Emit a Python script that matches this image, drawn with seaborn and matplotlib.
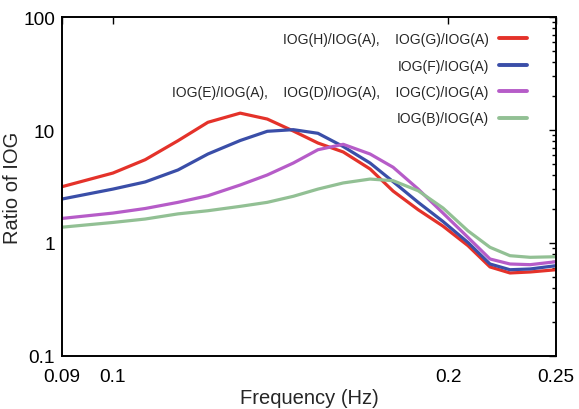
import matplotlib
matplotlib.use("Agg")
import matplotlib.pyplot as plt
import matplotlib.ticker as mticker
import seaborn as sns
import pandas as pd
import numpy as np

# frequencies (Hz)
freq = [0.09, 0.100, 0.1069, 0.1144, 0.1217, 0.1301, 0.1376, 0.1452, 0.1528,
        0.1610, 0.1702, 0.1785, 0.1880, 0.1979, 0.2084, 0.2181, 0.2273, 0.2370, 0.25]

ratio_hg = [3.15, 4.16, 5.46, 8.04, 11.7, 14.1, 12.5, 9.8, 7.67,
            6.39, 4.52, 2.88, 1.97, 1.41, 0.947, 0.614, 0.543, 0.554, 0.580]
ratio_f = [2.45, 3.0, 3.47, 4.43, 6.13, 8.07, 9.74, 10.07, 9.35,
           7.14, 5.10, 3.49, 2.29, 1.55, 1.01, 0.652, 0.580, 0.589, 0.630]
ratio_edc = [1.65, 1.84, 2.02, 2.29, 2.62, 3.26, 4.00, 5.10, 6.69,
             7.47, 6.13, 4.68, 3.0, 1.84, 1.12, 0.722, 0.652, 0.643, 0.683]
ratio_b = [1.38, 1.52, 1.63, 1.81, 1.93, 2.11, 2.29, 2.59, 3.0,
           3.40, 3.68, 3.56, 2.90, 2.04, 1.28, 0.916, 0.772, 0.747, 0.756]

labels = ["IOG(H)/IOG(A),    IOG(G)/IOG(A)",
          "IOG(F)/IOG(A)",
          "IOG(E)/IOG(A),    IOG(D)/IOG(A),    IOG(C)/IOG(A)",
          "IOG(B)/IOG(A)"]
colors = ["#e4322a", "#3a4ea8", "#b65cc8", "#92c094"]

df = pd.concat([
    pd.DataFrame({"freq": freq, "ratio": vals, "series": lab})
    for lab, vals in zip(labels, [ratio_hg, ratio_f, ratio_edc, ratio_b])
])

sns.set_style("white")
plt.rcParams["font.family"] = ["Liberation Sans", "DejaVu Sans"]

fig = plt.figure(figsize=(5.79, 4.10), dpi=100)
ax = fig.add_axes([62 / 579, 53 / 410, 494 / 579, 339 / 410])

sns.lineplot(data=df, x="freq", y="ratio", hue="series", palette=colors,
             hue_order=labels, sort=False, estimator=None, linewidth=2.3,
             ax=ax, legend=False)

ax.set_xscale("log")
ax.set_yscale("log")
ax.set_xlim(0.09, 0.25)
ax.set_ylim(0.1, 100)

ax.xaxis.set_major_locator(mticker.FixedLocator([0.09, 0.1, 0.2, 0.25]))
ax.xaxis.set_major_formatter(mticker.FixedFormatter(["0.09", "0.1", "0.2", "0.25"]))
ax.xaxis.set_minor_locator(mticker.NullLocator())
ax.yaxis.set_major_locator(mticker.FixedLocator([0.1, 1, 10, 100]))
ax.yaxis.set_major_formatter(mticker.FixedFormatter(["0.1", "1", "10", "100"]))
ax.yaxis.set_minor_locator(mticker.LogLocator(base=10, subs=np.arange(2, 10)))
ax.yaxis.set_minor_formatter(mticker.NullFormatter())

ax.tick_params(which="both", direction="in", top=True, right=True,
               labelsize=13.7, colors="black", width=1.0)
ax.tick_params(which="major", length=5, pad=5)
ax.tick_params(which="minor", length=3)
ax.tick_params(axis="x", pad=9)
for s in ax.spines.values():
    s.set_linewidth(1.4)
    s.set_color("black")

ax.set_xlabel("Frequency (Hz)", fontsize=14.5, labelpad=2)
ax.set_ylabel("Ratio of IOG", fontsize=14.5, labelpad=1)

handles = [plt.Line2D([], [], color=c, linewidth=2.8) for c in colors]
ax.legend(handles, labels, loc="upper right", markerfirst=False, frameon=False,
          fontsize=10, handlelength=2.0, handletextpad=0.75, labelspacing=0.9,
          borderpad=0, borderaxespad=0,
          bbox_to_anchor=(527 / 579, 377 / 410), bbox_transform=fig.transFigure)

fig.savefig("out.png", dpi=100)
